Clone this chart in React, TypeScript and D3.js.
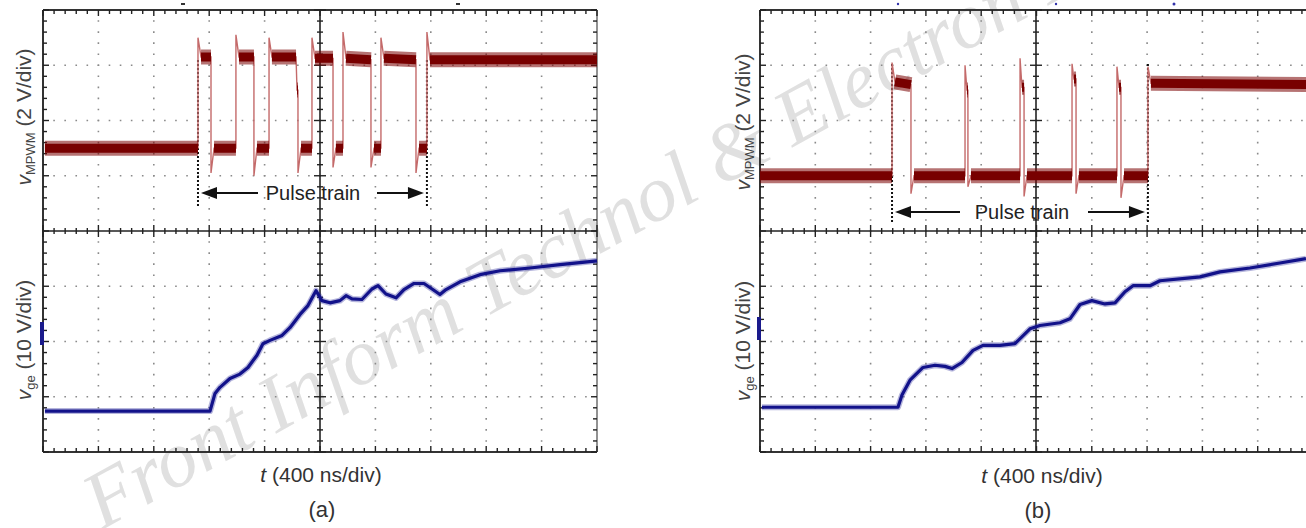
import React from "react";
import * as d3 from "d3";

// ---------- data (time in ns, 400 ns/div; voltages in V) ----------
const TIME_DOMAIN: [number, number] = [0, 4000];

// (a) v_MPWM, 2 V/div
const MPWM_A: [number, number][] = [
  [14, 0], [1119, 0], [1119, 4.0], [1141, 3.3], [1213, 3.3], [1213, -0.9], [1235, 0],
  [1393, 0], [1393, 4.1], [1415, 3.3], [1523, 3.3], [1523, -1.0], [1545, 0],
  [1632, 0], [1632, 4.0], [1653, 3.3], [1827, 3.3], [1834, 2.1], [1841, 2.1], [1841, -0.9], [1863, 0],
  [1942, 0], [1942, 4.0], [1964, 3.25], [2094, 3.25], [2094, -0.7], [2115, 0],
  [2166, 0], [2166, 4.2], [2188, 3.25], [2368, 3.2], [2368, -0.7], [2390, 0],
  [2440, 0], [2440, 4.0], [2462, 3.25], [2693, 3.2], [2693, -0.9], [2715, 0],
  [2772, 0], [2772, 4.2], [2794, 3.2], [4000, 3.2],
];

// (a) v_ge, 10 V/div
const VGE_A: [number, number][] = [
  [14, -12.6], [1206, -12.6], [1242, -9.4], [1278, -8.3], [1350, -6.7], [1422, -5.9],
  [1480, -4.7], [1545, -2.5], [1588, -0.4], [1639, 0.2], [1726, 1.1], [1783, 2.5],
  [1856, 4.9], [1913, 6.5], [1971, 9.2], [2014, 7.4], [2072, 7.0], [2144, 7.4],
  [2188, 8.3], [2231, 7.7], [2303, 7.6], [2375, 9.5], [2419, 10.1], [2476, 8.6],
  [2549, 7.9], [2606, 9.4], [2679, 10.5], [2751, 10.5], [2809, 9.5], [2866, 8.5],
  [2910, 9.4], [3011, 10.8], [3155, 12.1], [3300, 12.8], [3516, 13.3], [3733, 13.9],
  [4000, 14.6],
];

// (b) v_MPWM, 2 V/div
const MPWM_B: [number, number][] = [
  [0, 0], [955, 0], [955, 4.1], [976, 3.4], [1092, 3.3], [1092, -0.65], [1114, 0],
  [1483, 0], [1483, 4.0], [1497, 3.1], [1504, 3.1], [1504, -0.4], [1526, 0],
  [1881, 0], [1881, 4.25], [1895, 3.2], [1910, 3.2], [1910, -0.75], [1931, 0],
  [2257, 0], [2257, 4.05], [2271, 3.5], [2286, 3.5], [2286, -0.65], [2307, 0],
  [2582, 0], [2582, 3.95], [2597, 3.2], [2611, 3.2], [2611, -0.8], [2633, 0],
  [2806, 0], [2806, 3.95], [2828, 3.35], [4000, 3.3],
];

// (b) v_ge, 10 V/div
const VGE_B: [number, number][] = [
  [14, -11.9], [998, -11.9], [1027, -9.7], [1085, -7.0], [1179, -4.7], [1266, -4.3],
  [1338, -4.5], [1389, -4.9], [1461, -3.8], [1541, -1.6], [1613, -0.7], [1736, -0.7],
  [1844, -0.4], [1953, 2.3], [2025, 2.9], [2170, 3.4], [2242, 4.1], [2315, 6.7],
  [2401, 7.4], [2495, 6.8], [2568, 7.0], [2640, 9.0], [2698, 10.1], [2821, 10.1],
  [2893, 11.0], [3110, 11.5], [3183, 11.7], [3327, 12.6], [3544, 13.3], [3761, 14.2],
  [3949, 15.0],
];

const PULSE_A: [number, number] = [1119, 2772];
const PULSE_B: [number, number] = [955, 2806];

const CAPTIONS = ["(a)", "(b)"];
const X_LABEL = " (400 ns/div)";
const TOP_UNIT = " (2 V/div)";
const BOT_UNIT = " (10 V/div)";
const PULSE_TEXT = "Pulse train";
const WATERMARK = "Front Inform Technol & Electron Eng";

// ---------- layout ----------
const W = 1306;
const H = 528;
const FONT = "'Liberation Sans', Arial, Helvetica, sans-serif";

type Panel = {
  x0: number; x1: number; y0: number; y1: number; cx: number;
  mpwm: [number, number][]; vge: [number, number][];
  redDomain: [number, number];
  pulse: [number, number];
  pulseTop: number; pulseBottom: number; arrowY: number; textY: number;
  textX: number; leftTail: number; rightTail: number;
  caption: string; labelX: number; topLabelY: number; botLabelY: number;
  xLabelX: number; xLabelY: number; capX: number; capY: number;
  marker: [number, number];
  hasRight: boolean;
};

const PANELS: Panel[] = [
  {
    x0: 43, x1: 597, y0: 10, y1: 452, cx: 320,
    mpwm: MPWM_A, vge: VGE_A, redDomain: [-3, 5], pulse: PULSE_A,
    pulseTop: 60, pulseBottom: 207, arrowY: 193, textY: 200, textX: 313,
    leftTail: 258, rightTail: 377, caption: CAPTIONS[0],
    labelX: 31, topLabelY: 117, botLabelY: 340, xLabelX: 321, xLabelY: 482,
    capX: 322, capY: 517, marker: [40, 322], hasRight: true,
  },
  {
    x0: 760, x1: 1313, y0: 10, y1: 452, cx: 1036,
    mpwm: MPWM_B, vge: VGE_B, redDomain: [-2, 6], pulse: PULSE_B,
    pulseTop: 64, pulseBottom: 222, arrowY: 212, textY: 219, textX: 1022,
    leftTail: 960, rightTail: 1088, caption: CAPTIONS[1],
    labelX: 750, topLabelY: 122, botLabelY: 341, xLabelX: 1042, xLabelY: 483,
    capX: 1038, capY: 518, marker: [757, 317], hasRight: false,
  },
];

function TickRow({ y, x0, x1, step, up, down, upMaj, downMaj }: any) {
  const out: JSX.Element[] = [];
  const n = Math.round((x1 - x0) / step);
  for (let i = 0; i <= n; i++) {
    const x = x0 + i * step;
    if (x > W + 2) break;
    const maj = i % 5 === 0;
    out.push(
      <line key={i} x1={x} x2={x} y1={y - (maj ? upMaj : up)} y2={y + (maj ? downMaj : down)}
        stroke="#222" strokeWidth={1.4} />
    );
  }
  return <g>{out}</g>;
}

function TickCol({ x, y0, y1, step, left, right, leftMaj, rightMaj }: any) {
  const out: JSX.Element[] = [];
  const n = Math.round((y1 - y0) / step);
  for (let i = 0; i <= n; i++) {
    const y = y0 + i * step;
    const maj = i % 5 === 0;
    out.push(
      <line key={i} x1={x - (maj ? leftMaj : left)} x2={x + (maj ? rightMaj : right)} y1={y} y2={y}
        stroke="#222" strokeWidth={1.4} />
    );
  }
  return <g>{out}</g>;
}

function PanelView({ p }: { p: Panel }) {
  const divW = (p.x1 - p.x0) / 10;
  const divH = (p.y1 - p.y0) / 8;
  const mid = p.y0 + 4 * divH;
  const x = d3.scaleLinear().domain(TIME_DOMAIN).range([p.x0, p.x1]);
  const yRed = d3.scaleLinear().domain(p.redDomain).range([mid, p.y0]);
  const yBlue = d3.scaleLinear().domain([-20, 20]).range([p.y1, mid]);

  const redLine = d3.line<[number, number]>().x((d) => x(d[0])).y((d) => yRed(d[1]));
  const blueLine = d3.line<[number, number]>().x((d) => x(d[0])).y((d) => yBlue(d[1]));

  // plateau segments (flat parts of the square wave) drawn as a noisy thick band
  let plateau = "";
  for (let i = 1; i < p.mpwm.length; i++) {
    const a = p.mpwm[i - 1], b = p.mpwm[i];
    if (b[0] > a[0] && Math.abs(b[1] - a[1]) < 0.25) {
      plateau += `M${x(a[0])},${yRed(a[1])}L${x(b[0])},${yRed(b[1])}`;
    }
  }

  const grid: JSX.Element[] = [];
  for (let k = 1; k <= 9; k++) {
    if (k === 5) continue;
    const gx = p.x0 + k * divW;
    grid.push(<line key={"v" + k} x1={gx} x2={gx} y1={p.y0} y2={p.y1} stroke="#8a8a8a"
      strokeWidth={1.6} strokeDasharray={`1.6 ${divH / 5 - 1.6}`} strokeDashoffset={0.8} />);
  }
  for (let k = 1; k <= 7; k++) {
    if (k === 4) continue;
    const gy = p.y0 + k * divH;
    grid.push(<line key={"h" + k} x1={p.x0} x2={Math.min(p.x1, W)} y1={gy} y2={gy} stroke="#8a8a8a"
      strokeWidth={1.6} strokeDasharray={`1.6 ${divW / 5 - 1.6}`} strokeDashoffset={0.8} />);
  }

  const xs = x(p.pulse[0]);
  const xe = x(p.pulse[1]);
  const ay = p.arrowY;
  const xr = Math.min(p.x1, W + 2);

  return (
    <g>
      {grid}
      {/* borders */}
      <line x1={p.x0} x2={xr} y1={p.y0} y2={p.y0} stroke="#333" strokeWidth={2} />
      <line x1={p.x0} x2={xr} y1={p.y1} y2={p.y1} stroke="#333" strokeWidth={2} />
      <line x1={p.x0} x2={p.x0} y1={p.y0} y2={p.y1} stroke="#333" strokeWidth={2} />
      {p.hasRight && <line x1={p.x1} x2={p.x1} y1={p.y0} y2={p.y1} stroke="#777" strokeWidth={1.6} />}
      {/* center axes */}
      <line x1={p.cx} x2={p.cx} y1={p.y0} y2={p.y1} stroke="#222" strokeWidth={1.6} />
      <line x1={p.x0} x2={xr} y1={mid} y2={mid} stroke="#222" strokeWidth={1.6} />
      {/* ticks */}
      <TickRow y={p.y0} x0={p.x0} x1={p.x1} step={divW / 5} up={0} down={4} upMaj={0} downMaj={6} />
      <TickRow y={p.y1} x0={p.x0} x1={p.x1} step={divW / 5} up={4} down={0} upMaj={6} downMaj={0} />
      <TickRow y={mid} x0={p.x0} x1={p.x1} step={divW / 5} up={3} down={3} upMaj={6} downMaj={6} />
      <TickCol x={p.x0} y0={p.y0} y1={p.y1} step={divH / 5} left={0} right={4} leftMaj={0} rightMaj={6} />
      {p.hasRight && <TickCol x={p.x1} y0={p.y0} y1={p.y1} step={divH / 5} left={4} right={0} leftMaj={6} rightMaj={0} />}
      <TickCol x={p.cx} y0={p.y0} y1={p.y1} step={divH / 5} left={3} right={3} leftMaj={6} rightMaj={6} />

      {/* pulse train annotation */}
      <line x1={xs} x2={xs} y1={p.pulseTop} y2={p.pulseBottom} stroke="#111" strokeWidth={2} strokeDasharray="2 2" />
      <line x1={xe} x2={xe} y1={p.pulseTop} y2={p.pulseBottom} stroke="#111" strokeWidth={2} strokeDasharray="2 2" />
      <text x={p.textX} y={p.textY} textAnchor="middle" fontFamily={FONT} fontSize={20} fill="#222">{PULSE_TEXT}</text>
      <line x1={p.leftTail} x2={xs + 14} y1={ay} y2={ay} stroke="#111" strokeWidth={2} />
      <polygon points={`${xs + 3},${ay} ${xs + 19},${ay - 6} ${xs + 19},${ay + 6}`} fill="#111" />
      <line x1={p.rightTail} x2={xe - 14} y1={ay} y2={ay} stroke="#111" strokeWidth={2} />
      <polygon points={`${xe - 3},${ay} ${xe - 19},${ay - 6} ${xe - 19},${ay + 6}`} fill="#111" />

      {/* v_MPWM trace */}
      <path d={redLine(p.mpwm) || ""} fill="none" stroke="#c46a6a" strokeWidth={1.4} />
      <path d={plateau} fill="none" stroke="#7a0000" strokeOpacity={0.55} strokeWidth={15} />
      <path d={plateau} fill="none" stroke="#780000" strokeWidth={9} />

      {/* v_ge trace */}
      <path d={blueLine(p.vge) || ""} fill="none" stroke="#2a2a9c" strokeOpacity={0.35} strokeWidth={6} strokeLinejoin="round" />
      <path d={blueLine(p.vge) || ""} fill="none" stroke="#12128a" strokeWidth={3.2} strokeLinejoin="round" />

      {/* channel marker */}
      <rect x={p.marker[0]} y={p.marker[1]} width={4} height={23} fill="#1a1a8c" />

      {/* labels */}
      <text transform={`translate(${p.labelX},${p.topLabelY}) rotate(-90)`} textAnchor="middle"
        fontFamily={FONT} fontSize={21} fill="#444">
        <tspan fontStyle="italic">v</tspan>
        <tspan fontSize={13} dy={4}>MPWM</tspan>
        <tspan dy={-4}>{TOP_UNIT}</tspan>
      </text>
      <text transform={`translate(${p.labelX},${p.botLabelY}) rotate(-90)`} textAnchor="middle"
        fontFamily={FONT} fontSize={21} fill="#444">
        <tspan fontStyle="italic">v</tspan>
        <tspan fontSize={13} dy={4}>ge</tspan>
        <tspan dy={-4}>{BOT_UNIT}</tspan>
      </text>
      <text x={p.xLabelX} y={p.xLabelY} textAnchor="middle" fontFamily={FONT} fontSize={21} fill="#333">
        <tspan fontStyle="italic">t</tspan>
        <tspan>{X_LABEL}</tspan>
      </text>
      <text x={p.capX} y={p.capY} textAnchor="middle" fontFamily={FONT} fontSize={22} fill="#333">{p.caption}</text>
    </g>
  );
}

export default function App() {
  return (
    <svg width={W} height={H} viewBox={`0 0 ${W} ${H}`}
      style={{ position: "absolute", left: 0, top: 0, background: "#fff" }}>
      <rect x={0} y={0} width={W} height={H} fill="#fff" />
      <text transform="translate(102,530) rotate(-29)" fontFamily="'Liberation Serif', 'DejaVu Serif', serif"
        fontStyle="italic" fontSize={80} fill="#e0e0e0">{WATERMARK}</text>
      {PANELS.map((p, i) => <PanelView key={i} p={p} />)}
      {/* trigger marks above the screens */}
      <rect x={181} y={3} width={4} height={2} fill="#333" />
      <rect x={456} y={3} width={4} height={2} fill="#333" />
      <circle cx={898} cy={4} r={1.2} fill="#33a" />
      <circle cx={1056} cy={4} r={1.2} fill="#33a" />
      <circle cx={1174} cy={4} r={1.5} fill="#33a" />
    </svg>
  );
}
